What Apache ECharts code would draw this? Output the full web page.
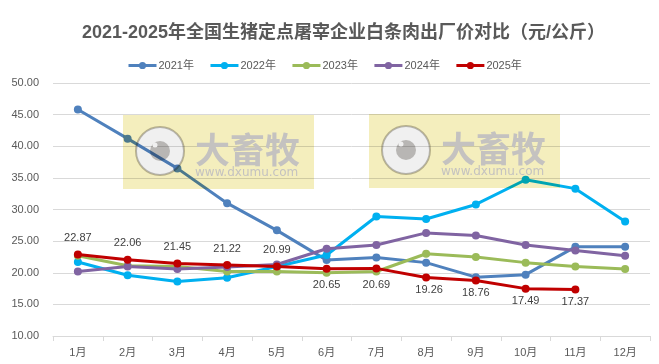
<!DOCTYPE html>
<html>
<head>
<meta charset="utf-8">
<style>
  html, body { margin: 0; padding: 0; background: #fff; }
  #chart { width: 659px; height: 364px; }
</style>
<script src="https://cdn.jsdelivr.net/npm/echarts@6/dist/echarts.min.js"></script>
</head>
<body>
<div id="chart"></div>
<script>
const months = ['1月', '2月', '3月', '4月', '5月', '6月', '7月', '8月', '9月', '10月', '11月', '12月'];
const y2021 = [45.8, 41.2, 36.5, 31.0, 26.7, 22.0, 22.4, 21.6, 19.3, 19.7, 24.1, 24.1];
const y2022 = [21.7, 19.6, 18.6, 19.2, 21.0, 22.8, 28.9, 28.5, 30.8, 34.7, 33.3, 28.1];
const y2023 = [22.7, 21.1, 21.0, 20.2, 20.2, 20.0, 20.2, 23.0, 22.5, 21.6, 21.0, 20.6];
const y2024 = [20.2, 21.0, 20.6, 20.9, 21.3, 23.8, 24.4, 26.3, 25.9, 24.4, 23.5, 22.7];
const y2025 = [22.87, 22.06, 21.45, 21.22, 20.99, 20.65, 20.69, 19.26, 18.76, 17.49, 17.37, null];

const FONT = '"Liberation Sans", "Noto Sans CJK SC", sans-serif';

function line(name, data, color) {
    return {
        name, data, type: 'line',
        symbol: 'circle', symbolSize: 8,
        lineStyle: { color, width: 3 },
        itemStyle: { color },
        emphasis: { disabled: true },
        animation: false
    };
}

// 水印底色：矩形中间挖一个圆，线条透过来
echarts.graphic.registerShape('wmBox', echarts.graphic.extendShape({
    shape: { x: 0, y: 0, width: 0, height: 0, cx: 0, cy: 0, r: 0 },
    buildPath(ctx, s) {
        ctx.moveTo(s.x, s.y);
        ctx.lineTo(s.x + s.width, s.y);
        ctx.lineTo(s.x + s.width, s.y + s.height);
        ctx.lineTo(s.x, s.y + s.height);
        ctx.closePath();
        ctx.moveTo(s.cx + s.r, s.cy);
        ctx.arc(s.cx, s.cy, s.r, 0, Math.PI * 2, true);
        ctx.closePath();
    }
}));

function watermark(x, y) {
    const cx = x + 37, cy = y + 36, r = 24;
    return [
        { type: 'wmBox', shape: { x, y, width: 191, height: 74, cx, cy, r }, style: { fill: '#f4eebd', blend: 'multiply' }, z: 20 },
        { type: 'circle', shape: { cx, cy, r }, style: { fill: '#f0f0f0', stroke: '#bfbdb8', lineWidth: 2, blend: 'multiply' }, z: 21 },
        { type: 'circle', shape: { cx, cy, r: 10 }, style: { fill: '#c4c2c0', blend: 'multiply' }, z: 22 },
        { type: 'circle', shape: { cx: cx - 5, cy: cy - 6, r: 2.5 }, style: { fill: '#f0f0f0' }, z: 23 },
        { type: 'text', style: { x: x + 72, y: y + 17, text: '大畜牧', fill: '#c4c2c0', font: 'bold 35px "Noto Sans CJK SC"', blend: 'multiply' }, z: 22 },
        { type: 'text', style: { x: x + 72, y: y + 52, text: 'www.dxumu.com', fill: '#c4c2c0', font: '12px "DejaVu Sans"', blend: 'multiply' }, z: 22 }
    ];
}

const chart = echarts.init(document.getElementById('chart'));

const s2025 = line('2025年', y2025, '#c00000');
s2025.z = 5;
s2025.label = {
    show: true, color: '#404040', fontSize: 11, fontFamily: FONT,
    formatter: p => p.value.toFixed(2)
};
// 前5个标签在线上方，其余在下方
s2025.data = y2025.map((v, i) => ({
    value: v,
    label: {
        position: i < 5 ? 'top' : 'bottom',
        distance: i < 7 ? 7 : 3,
        offset: i === 7 ? [3, 0] : [0, 0]
    }
}));

chart.setOption({
    animation: false,
    backgroundColor: '#fff',
    title: {
        text: '2021-2025年全国生猪定点屠宰企业白条肉出厂价对比（元/公斤）',
        left: 77, top: 19,
        textStyle: { color: '#595959', fontSize: 18, fontWeight: 'bold', fontFamily: FONT }
    },
    legend: {
        top: 55, left: 122,
        itemWidth: 28, itemHeight: 9, itemGap: 15,
        lineStyle: { width: 3 },
        textStyle: { color: '#595959', fontSize: 11, fontFamily: FONT, padding: [0, 0, 0, -3] },
        data: ['2021年', '2022年', '2023年', '2024年', '2025年']
    },
    grid: { left: 53, right: 9, top: 83, bottom: 28 },
    xAxis: {
        type: 'category', data: months, boundaryGap: true,
        axisLine: { lineStyle: { color: '#d9d9d9' } },
        axisTick: { show: true, lineStyle: { color: '#d9d9d9' } },
        axisLabel: { color: '#595959', fontSize: 11, fontFamily: FONT, margin: 11 }
    },
    yAxis: {
        type: 'value', min: 10, max: 50, interval: 5,
        axisLine: { show: false }, axisTick: { show: false },
        splitLine: { lineStyle: { color: '#d9d9d9' } },
        axisLabel: { color: '#595959', fontSize: 11, fontFamily: FONT, margin: 14, formatter: v => v.toFixed(2) }
    },
    series: [
        line('2021年', y2021, '#4f81bd'),
        line('2022年', y2022, '#00b0f0'),
        line('2023年', y2023, '#9bbb59'),
        line('2024年', y2024, '#8064a2'),
        s2025
    ],
    graphic: { elements: [...watermark(123, 115), ...watermark(369, 114)] }
});

window.addEventListener('resize', () => chart.resize());
</script>
</body>
</html>
